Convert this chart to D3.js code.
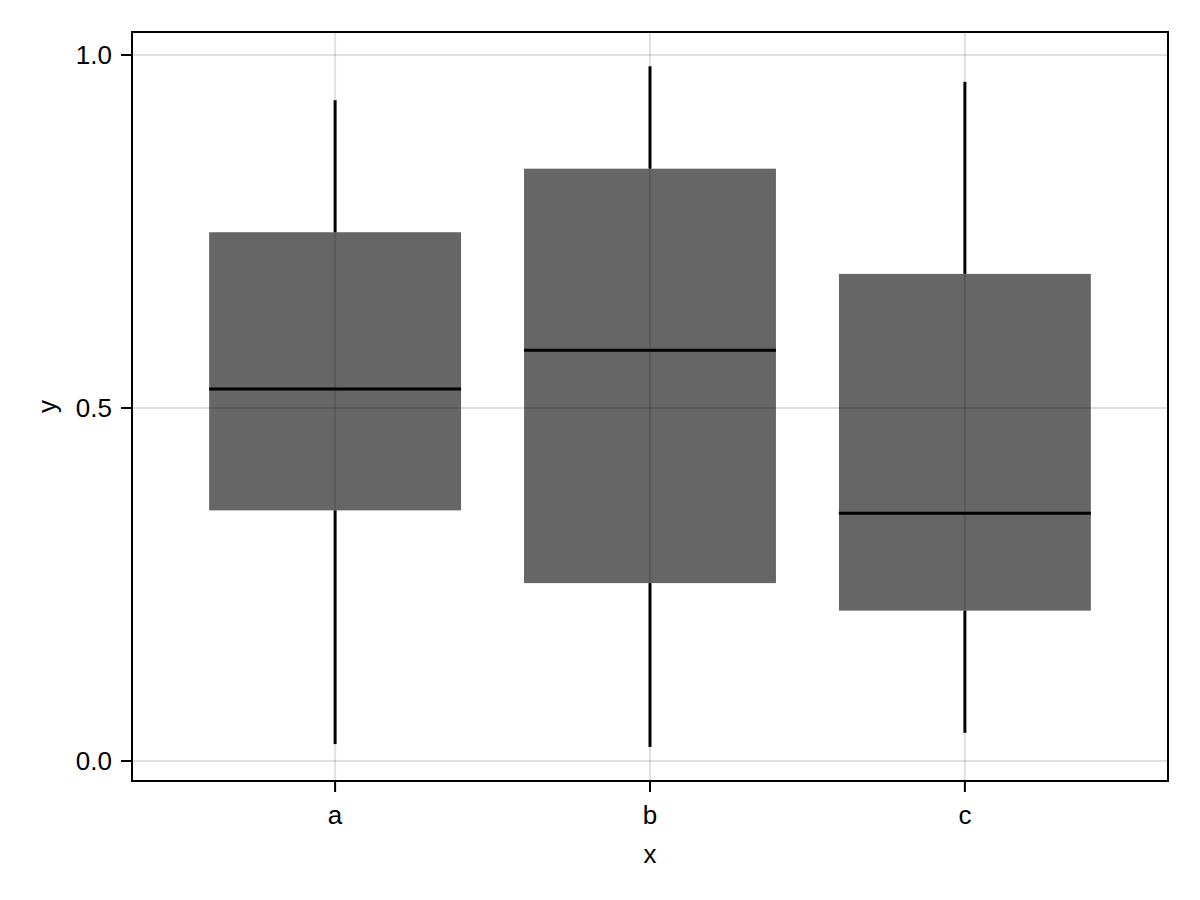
<!DOCTYPE html>
<html>
<head>
<meta charset="utf-8">
<script src="https://cdn.jsdelivr.net/npm/d3@7"></script>
<style>
  html, body { margin: 0; padding: 0; background: #fff; }
  svg { display: block; font-family: "Liberation Sans", Arial, sans-serif; }
</style>
</head>
<body>
<svg id="chart" width="1200" height="900"></svg>
<script>
const categories = ["a", "b", "c"];
const mins    = [0.024, 0.020, 0.040];
const q1s     = [0.355, 0.252, 0.213];
const medians = [0.527, 0.582, 0.351];
const q3s     = [0.749, 0.839, 0.690];
const maxs    = [0.936, 0.984, 0.962];
const yTicks  = [0.0, 0.5, 1.0];
const yTickLabels = ["0.0", "0.5", "1.0"];

const svg = d3.select("#chart");
const L = 132, R = 1168, T = 32, B = 781;

const x = d3.scaleLinear().domain([0.355, 3.645]).range([L, R]);
const y = d3.scaleLinear().domain([-0.0283, 1.0326]).range([B, T]);
const boxW = 0.8;
const FS = 26;

// grid
const grid = svg.append("g");
grid.selectAll("line.gy").data(yTicks).join("line")
  .attr("x1", L).attr("x2", R)
  .attr("y1", d => y(d)).attr("y2", d => y(d))
  .attr("stroke", "rgba(0,0,0,0.12)").attr("stroke-width", 2);
grid.selectAll("line.gx").data(categories).join("line")
  .attr("x1", (d, i) => x(i + 1)).attr("x2", (d, i) => x(i + 1))
  .attr("y1", T).attr("y2", B)
  .attr("stroke", "rgba(0,0,0,0.12)").attr("stroke-width", 2);

// boxes
const data = categories.map((c, i) => ({
  c, i, min: mins[i], q1: q1s[i], med: medians[i], q3: q3s[i], max: maxs[i]
}));
const g = svg.append("g");
g.selectAll("line.wlo").data(data).join("line")
  .attr("x1", d => x(d.i + 1)).attr("x2", d => x(d.i + 1))
  .attr("y1", d => y(d.min)).attr("y2", d => y(d.q1))
  .attr("stroke", "#000").attr("stroke-width", 3);
g.selectAll("line.whi").data(data).join("line")
  .attr("x1", d => x(d.i + 1)).attr("x2", d => x(d.i + 1))
  .attr("y1", d => y(d.q3)).attr("y2", d => y(d.max))
  .attr("stroke", "#000").attr("stroke-width", 3);
g.selectAll("rect").data(data).join("rect")
  .attr("x", d => x(d.i + 1 - boxW / 2))
  .attr("width", d => x(d.i + 1 + boxW / 2) - x(d.i + 1 - boxW / 2))
  .attr("y", d => y(d.q3))
  .attr("height", d => y(d.q1) - y(d.q3))
  .attr("fill", "rgba(0,0,0,0.6)");
g.selectAll("line.med").data(data).join("line")
  .attr("x1", d => x(d.i + 1 - boxW / 2)).attr("x2", d => x(d.i + 1 + boxW / 2))
  .attr("y1", d => y(d.med)).attr("y2", d => y(d.med))
  .attr("stroke", "#000").attr("stroke-width", 3);

// frame
svg.append("rect").attr("x", L).attr("y", T).attr("width", R - L).attr("height", B - T)
  .attr("fill", "none").attr("stroke", "#000").attr("stroke-width", 2);

// y axis ticks
const ya = svg.append("g");
ya.selectAll("line").data(yTicks).join("line")
  .attr("x1", L - 11).attr("x2", L)
  .attr("y1", d => y(d)).attr("y2", d => y(d))
  .attr("stroke", "#000").attr("stroke-width", 2);
ya.selectAll("text").data(yTicks).join("text")
  .attr("x", L - 20).attr("y", d => y(d))
  .attr("dy", "0.35em").attr("text-anchor", "end")
  .attr("font-size", FS).attr("fill", "#000")
  .text((d, i) => yTickLabels[i]);

// x axis ticks
const xa = svg.append("g");
xa.selectAll("line").data(categories).join("line")
  .attr("x1", (d, i) => x(i + 1)).attr("x2", (d, i) => x(i + 1))
  .attr("y1", B).attr("y2", B + 11)
  .attr("stroke", "#000").attr("stroke-width", 2);
xa.selectAll("text").data(categories).join("text")
  .attr("x", (d, i) => x(i + 1)).attr("y", 824)
  .attr("text-anchor", "middle")
  .attr("font-size", FS).attr("fill", "#000")
  .text(d => d);

// axis labels
svg.append("text").attr("x", (L + R) / 2).attr("y", 863)
  .attr("text-anchor", "middle").attr("font-size", FS).text("x");
svg.append("text")
  .attr("transform", `translate(56,${(T + B) / 2}) rotate(-90)`)
  .attr("text-anchor", "middle").attr("font-size", FS).text("y");
</script>
</body>
</html>
